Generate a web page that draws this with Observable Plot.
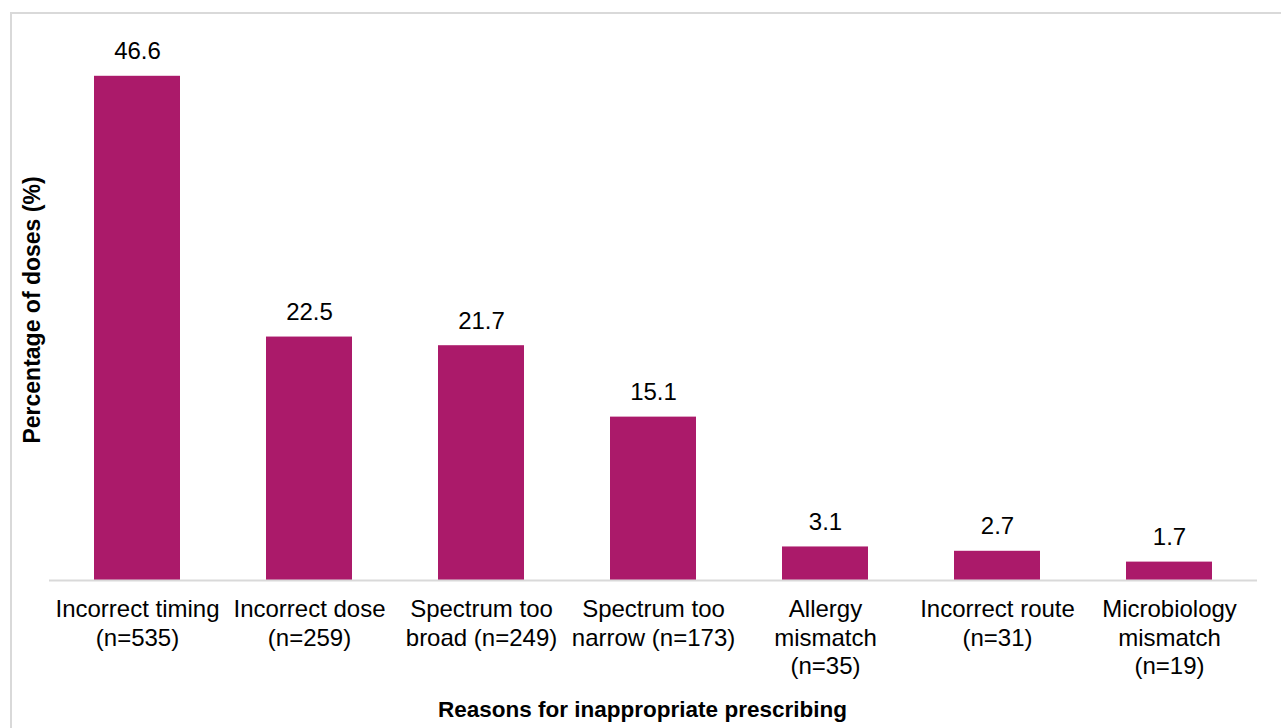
<!DOCTYPE html>
<html>
<head>
<meta charset="utf-8">
<script src="https://cdn.jsdelivr.net/npm/d3@7"></script>
<script src="https://cdn.jsdelivr.net/npm/@observablehq/plot@0.6"></script>
<style>
  html, body { margin: 0; padding: 0; background: #fff; overflow: hidden; }
  #wrap { position: relative; width: 1281px; height: 728px; }
  #frame { position: absolute; left: 10px; top: 12px; width: 1400px; height: 900px; border: 2px solid #d9d9d9; box-sizing: border-box; }
  #chart { position: absolute; left: 0; top: 0; }
</style>
</head>
<body>
<div id="wrap">
  <div id="frame"></div>
  <div id="chart"></div>
</div>
<script>
const categories = [
  "Incorrect timing\n(n=535)",
  "Incorrect dose\n(n=259)",
  "Spectrum too\nbroad (n=249)",
  "Spectrum too\nnarrow (n=173)",
  "Allergy\nmismatch\n(n=35)",
  "Incorrect route\n(n=31)",
  "Microbiology\nmismatch\n(n=19)"
];
const values = [46.6, 22.5, 21.7, 15.1, 3.1, 2.7, 1.7];
const xTitle = "Reasons for inappropriate prescribing";
const yTitle = "Percentage of doses (%)";

const data = categories.map((c, i) => ({category: c, value: values[i]}));

const chart = Plot.plot({
  width: 1281,
  height: 728,
  marginLeft: 49,
  marginRight: 24,
  marginTop: 39,
  marginBottom: 148,
  style: {fontFamily: "Arial, 'Liberation Sans', sans-serif", color: "#000", background: "transparent"},
  x: {domain: categories, paddingInner: 0.5, paddingOuter: 0.25, label: null},
  y: {domain: [0, 50], axis: null},
  marks: [
    Plot.barY(data, {x: "category", y: "value", fill: "#AB1A6A"}),
    Plot.ruleY([0], {stroke: "#d9d9d9", strokeWidth: 2}),
    Plot.text(data, {x: "category", y: "value", text: d => d.value.toFixed(1), lineAnchor: "bottom", dy: -17, fontSize: 24, fill: "#000"}),
    Plot.axisX({tickSize: 0, tickPadding: 17, fontSize: 24, lineHeight: 1.17, label: null, fill: "#000"}),
    Plot.text([xTitle], {text: d => d, frameAnchor: "bottom", dx: -11, dy: 136, fontSize: 22.5, fontWeight: "bold", fill: "#000"}),
    Plot.text([yTitle], {text: d => d, frameAnchor: "left", textAnchor: "middle", rotate: -90, dx: -17, fontSize: 23, fontWeight: "bold", fill: "#000"})
  ]
});
document.getElementById("chart").appendChild(chart);
</script>
</body>
</html>
